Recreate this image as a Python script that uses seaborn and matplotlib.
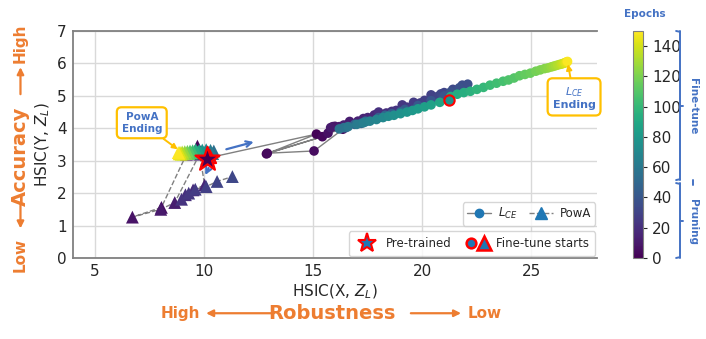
import numpy as np
import pandas as pd
import matplotlib
matplotlib.use("Agg")
import matplotlib.pyplot as plt
import matplotlib.transforms as mtransforms
from matplotlib.patches import FancyArrowPatch
from matplotlib.colors import Normalize
from matplotlib.lines import Line2D
from matplotlib.legend_handler import HandlerTuple
import seaborn as sns

# L_CE trajectory: pruning (epochs 0-49)
lce_prune_epoch = [0, 1, 2, 3, 4, 5, 6, 7, 8, 9, 10, 11, 12, 13, 14, 15, 16, 17, 18, 19,
                   20, 21, 22, 23, 24, 25, 26, 27, 28, 29, 30, 31, 32, 33, 34, 35, 36, 37, 38, 39,
                   40, 41, 42, 43, 44, 45, 46, 47, 48, 49]
lce_prune_x = [10.15, 15.15, 12.86, 15.42, 12.90, 15.04, 16.36, 15.68, 15.90, 16.00,
               16.20, 15.80, 16.67, 16.40, 17.05, 17.30, 17.50, 17.80, 17.95, 18.10,
               18.35, 18.00, 18.60, 18.80, 19.08, 19.30, 19.60, 19.90, 20.10, 20.40,
               20.70, 21.00, 20.85, 21.40, 21.60, 21.83, 22.08, 21.70, 21.30, 21.00,
               20.40, 19.80, 19.20, 18.60, 18.00, 17.40, 16.90, 16.50, 17.20, 18.30]
lce_prune_y = [3.08, 3.82, 3.21, 3.74, 3.23, 3.30, 3.97, 3.85, 4.05, 4.06,
               4.05, 4.02, 4.21, 4.10, 4.22, 4.30, 4.33, 4.41, 4.45, 4.40,
               4.47, 4.50, 4.52, 4.55, 4.72, 4.65, 4.80, 4.78, 4.86, 5.03,
               4.98, 5.10, 5.06, 5.20, 5.18, 5.33, 5.36, 5.25, 5.12, 5.00,
               4.85, 4.70, 4.58, 4.45, 4.33, 4.22, 4.12, 4.02, 4.15, 4.40]

# L_CE trajectory: fine-tune (epochs 50-149)
lce_ft_epoch = [50, 52, 54, 56, 58, 60, 62, 64, 66, 68, 70, 72, 74, 76, 78, 80, 82, 84, 86, 88,
                90, 92, 94, 96, 98, 100, 102, 104, 106, 108, 110, 112, 114, 116, 118, 120, 122,
                124, 126, 128, 130, 132, 134, 136, 138, 140, 142, 144, 146, 149]
lce_ft_x = [21.20, 19.00, 17.40, 16.40, 16.20, 16.60, 17.00, 17.30, 17.60, 17.90,
            18.20, 18.45, 18.70, 19.00, 19.30, 19.55, 19.80, 20.10, 20.40, 20.80,
            21.30, 21.60, 21.90, 22.20, 22.50, 22.80, 23.10, 23.40, 23.70, 23.95,
            24.20, 24.45, 24.70, 24.95, 25.20, 25.40, 25.60, 25.75, 25.90, 26.00,
            26.10, 26.20, 26.30, 26.38, 26.45, 26.50, 26.55, 26.60, 26.63, 26.65]
lce_ft_y = [4.88, 4.50, 4.20, 4.02, 3.98, 4.05, 4.12, 4.17, 4.22, 4.27,
            4.33, 4.37, 4.40, 4.45, 4.50, 4.55, 4.60, 4.66, 4.72, 4.80,
            4.98, 5.05, 5.10, 5.14, 5.20, 5.26, 5.33, 5.39, 5.45, 5.49,
            5.55, 5.62, 5.66, 5.70, 5.76, 5.80, 5.84, 5.86, 5.89, 5.91,
            5.93, 5.95, 5.97, 5.98, 6.00, 6.01, 6.02, 6.04, 6.05, 6.06]

# PowA trajectory: pruning (epochs 0-49)
powa_prune_epoch = [0, 2, 4, 6, 8, 10, 12, 14, 16, 18, 20, 22, 24, 26, 28, 30, 32]
powa_prune_x = [10.15, 9.70, 9.20, 8.05, 6.72, 8.02, 8.66, 9.80, 10.03, 9.50, 9.15, 8.97,
                9.30, 9.60, 10.10, 10.60, 11.30]
powa_prune_y = [3.05, 3.45, 3.20, 1.56, 1.26, 1.50, 1.71, 3.20, 2.25, 2.10, 1.95, 1.81,
                2.00, 2.12, 2.20, 2.36, 2.51]

# PowA trajectory: fine-tune (epochs 50-149)
powa_ft_epoch = [50, 54, 58, 62, 66, 70, 74, 78, 82, 86, 90, 94, 98, 102, 106, 110, 114, 118,
                 122, 126, 130, 134, 138, 142, 146, 149]
powa_ft_x = [10.25, 10.45, 10.40, 10.30, 10.20, 10.10, 10.00, 9.92, 9.85, 9.78, 9.70, 9.62,
             9.55, 9.48, 9.42, 9.36, 9.30, 9.24, 9.18, 9.12, 9.06, 9.00, 8.95, 8.90, 8.86, 8.82]
powa_ft_y = [3.15, 3.30, 3.22, 3.32, 3.25, 3.34, 3.26, 3.33, 3.24, 3.32, 3.26, 3.34,
             3.25, 3.31, 3.24, 3.30, 3.22, 3.29, 3.22, 3.28, 3.21, 3.27, 3.20, 3.26, 3.21, 3.25]

pretrained = (10.15, 3.05)

ORANGE = "#ED7D31"
BLUE = "#4472C4"
GOLD = "#FFC000"
cmap = plt.get_cmap("viridis")
norm = Normalize(0, 150)

def frame(ep, x, y):
    return pd.DataFrame({"epoch": ep, "x": x, "y": y})

lce_p = frame(lce_prune_epoch, lce_prune_x, lce_prune_y)
lce_f = frame(lce_ft_epoch, lce_ft_x, lce_ft_y)
pow_p = frame(powa_prune_epoch, powa_prune_x, powa_prune_y)
pow_f = frame(powa_ft_epoch, powa_ft_x, powa_ft_y)

sns.set_style("whitegrid")
plt.rcParams["font.family"] = ["DejaVu Sans"]

fig = plt.figure(figsize=(7.06, 3.39), dpi=100)
ax = fig.add_axes([0.1034, 0.239, 0.7422, 0.6696])
cax = fig.add_axes([0.8966, 0.239, 0.0142, 0.6696])

# trajectories (lines)
for d in (lce_p, lce_f):
    sns.lineplot(data=d, x="x", y="y", sort=False, estimator=None, color="#808080",
                 lw=1.0, ax=ax, zorder=2)
for d in (pow_p, pow_f):
    sns.lineplot(data=d, x="x", y="y", sort=False, estimator=None, color="#808080",
                 lw=1.0, ls="--", ax=ax, zorder=2)

# points coloured by epoch
for d in (lce_p, lce_f):
    sns.scatterplot(data=d, x="x", y="y", hue="epoch", palette="viridis", hue_norm=(0, 150),
                    s=48, marker="o", edgecolor="none", legend=False, ax=ax, zorder=3)
for d in (pow_p, pow_f):
    sns.scatterplot(data=d, x="x", y="y", hue="epoch", palette="viridis", hue_norm=(0, 150),
                    s=85, marker="^", edgecolor="none", legend=False, ax=ax, zorder=3)

# fine-tune start markers and pre-trained star
ax.scatter(lce_ft_x[0], lce_ft_y[0], s=55, marker="o", color=cmap(norm(75)),
           edgecolor="red", linewidth=1.5, zorder=4)
ax.scatter(powa_ft_x[0], powa_ft_y[0], s=90, marker="^", color=cmap(norm(powa_ft_epoch[0])),
           edgecolor="red", linewidth=1.5, zorder=4)
ax.scatter(*pretrained, s=330, marker="*", color=cmap(0.0), edgecolor="red", linewidth=1.6, zorder=5)

ax.set_xlim(4, 28)
ax.set_ylim(0, 7)
ax.set_xticks([5, 10, 15, 20, 25])
ax.set_yticks(range(0, 8))
ax.tick_params(labelsize=11, pad=1)
ax.set_xlabel("HSIC(X, $Z_L$)", fontsize=11)
ax.set_ylabel("HSIC(Y, $Z_L$)", fontsize=11)
ax.xaxis.set_label_coords(0.5, -0.11)
ax.yaxis.set_label_coords(-0.04, 0.5)
ax.grid(color="#d9d9d9", lw=1)
for side in ("left", "bottom", "top"):
    ax.spines[side].set_color("#808080")
    ax.spines[side].set_linewidth(1.3)
ax.spines["right"].set_visible(False)

# direction arrows
ax.annotate("", xy=(12.4, 3.6), xytext=(10.9, 3.33),
            arrowprops=dict(arrowstyle="->", color=BLUE, lw=1.6))
ax.annotate("", xy=(10.0, 2.48), xytext=(10.27, 2.85),
            arrowprops=dict(arrowstyle="->", color=BLUE, lw=1.6))

# ending callouts
box = dict(boxstyle="round,pad=0.45", fc="white", ec=GOLD, lw=1.6)
ax.annotate("PowA\nEnding", xy=(8.9, 3.3), xytext=(7.15, 4.17), ha="center", va="center",
            fontsize=7.5, fontweight="bold", color=BLUE, bbox=box,
            arrowprops=dict(arrowstyle="-|>", color=GOLD, lw=1.4, shrinkA=0, shrinkB=2))
ax.annotate("$L_{CE}$\nEnding", xy=(26.65, 6.06), xytext=(26.95, 4.94), ha="center", va="center",
            fontsize=8, fontweight="bold", color=BLUE, bbox=box,
            arrowprops=dict(arrowstyle="-|>", color=GOLD, lw=1.4, shrinkA=0, shrinkB=2))

# legends
h_lce = Line2D([], [], color="#808080", lw=1.0, marker="o", mfc="tab:blue", mec="tab:blue", ms=6)
h_pow = Line2D([], [], color="#808080", lw=1.0, ls="--", marker="^", mfc="tab:blue", mec="tab:blue", ms=8)
leg1 = ax.legend([h_lce, h_pow], ["$L_{CE}$", "PowA"], ncol=2, fontsize=8.5, loc="lower right",
                 bbox_to_anchor=(1.0, 0.135), frameon=True, handlelength=2.0, columnspacing=1.0,
                 borderpad=0.35, borderaxespad=0.15, handletextpad=0.6)
ax.add_artist(leg1)
h_star = Line2D([], [], ls="", marker="*", mfc="tab:blue", mec="red", mew=1.5, ms=14)
h_c = Line2D([], [], ls="", marker="o", mfc="tab:blue", mec="red", mew=1.8, ms=7)
h_t = Line2D([], [], ls="", marker="^", mfc="tab:blue", mec="red", mew=1.8, ms=10)
ax.legend([h_star, (h_c, h_t)], ["Pre-trained", "Fine-tune starts"], ncol=2, fontsize=8.5,
          loc="lower right", bbox_to_anchor=(1.0, 0.0),
          handler_map={tuple: HandlerTuple(ndivide=None, pad=0.1)},
          handlelength=2.0, columnspacing=1.2, borderpad=0.5, borderaxespad=0.15, handletextpad=0.6)

# colorbar
sm = plt.cm.ScalarMappable(norm=norm, cmap=cmap)
cb = fig.colorbar(sm, cax=cax, ticks=range(0, 160, 20))
cb.ax.tick_params(labelsize=11, length=3)
cb.outline.set_edgecolor("#808080")
fig.text(0.914, 0.958, "Epochs", ha="center", va="center", fontsize=7.5, fontweight="bold", color=BLUE)

# brace for pruning / fine-tune
tr = mtransforms.blended_transform_factory(cax.transAxes, cax.transData)
bx = 4.65
for lo, hi in ((51.5, 150), (0, 49.5)):
    cax.plot([bx, bx], [lo, hi], color=BLUE, lw=1.4, transform=tr, clip_on=False)
    cax.plot([bx - 0.35, bx], [hi, hi - 0.5], color=BLUE, lw=1.4, transform=tr, clip_on=False)
    cax.plot([bx - 0.35, bx], [lo, lo + 0.5], color=BLUE, lw=1.4, transform=tr, clip_on=False)
    mid = (lo + hi) / 2
    cax.plot([bx, bx + 0.35], [mid, mid], color=BLUE, lw=1.4, transform=tr, clip_on=False)
cax.plot([5.95, 5.95], [48.5, 51.5], color=BLUE, lw=1.4, transform=tr, clip_on=False)
cax.text(6.0, 100, "Fine-tune", rotation=-90, ha="center", va="center", fontsize=7.5,
         fontweight="bold", color=BLUE, transform=tr)
cax.text(6.0, 24, "Pruning", rotation=-90, ha="center", va="center", fontsize=7.5,
         fontweight="bold", color=BLUE, transform=tr)

# robustness / accuracy guides
arrow = dict(arrowstyle="-|>", color=ORANGE, lw=1.6, mutation_scale=10)
fig.text(0.470, 0.074, "Robustness", ha="center", va="center", fontsize=14, fontweight="bold", color=ORANGE)
fig.text(0.255, 0.076, "High", ha="center", va="center", fontsize=11, fontweight="bold", color=ORANGE)
fig.text(0.686, 0.076, "Low", ha="center", va="center", fontsize=11, fontweight="bold", color=ORANGE)
fig.add_artist(FancyArrowPatch((0.392, 0.076), (0.288, 0.076), transform=fig.transFigure, **arrow))
fig.add_artist(FancyArrowPatch((0.578, 0.076), (0.657, 0.076), transform=fig.transFigure, **arrow))

fig.text(0.029, 0.54, "Accuracy", rotation=90, ha="center", va="center", fontsize=14, fontweight="bold", color=ORANGE)
fig.text(0.029, 0.873, "High", rotation=90, ha="center", va="center", fontsize=11, fontweight="bold", color=ORANGE)
fig.text(0.029, 0.248, "Low", rotation=90, ha="center", va="center", fontsize=11, fontweight="bold", color=ORANGE)
fig.add_artist(FancyArrowPatch((0.029, 0.714), (0.029, 0.81), transform=fig.transFigure, **arrow))
fig.add_artist(FancyArrowPatch((0.029, 0.41), (0.029, 0.318), transform=fig.transFigure, **arrow))

fig.savefig("out.png", dpi=100)
